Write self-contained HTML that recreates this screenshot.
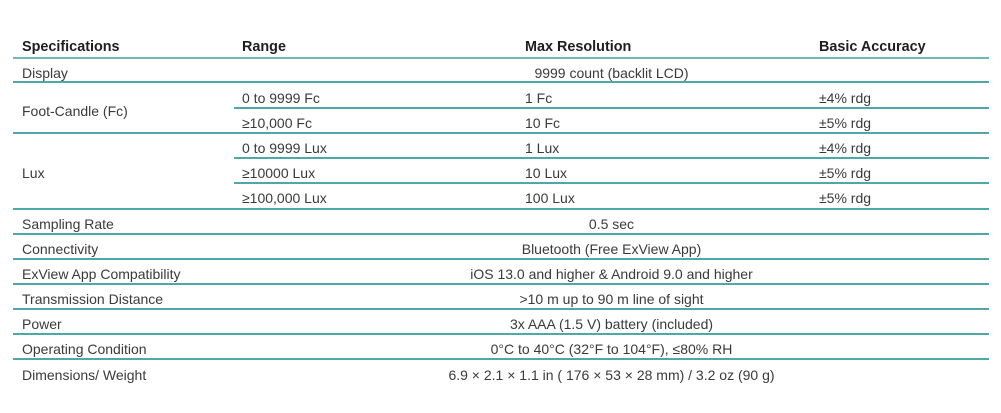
<!DOCTYPE html>
<html>
<head>
<meta charset="utf-8">
<style>
  html, body { margin:0; padding:0; background:#fff; }
  body { width:1001px; height:413px; position:relative; overflow:hidden;
         font-family:"Liberation Sans", Arial, sans-serif; font-size:14px; color:#3a3a3a; }
  .t { position:absolute; line-height:14px; height:14px; white-space:nowrap; }
  .h { font-weight:bold; color:#1e1e1e; font-size:14.4px; }
  .c { width:755px; left:234px; text-align:center; }
  .ln { position:absolute; height:2px; background:#4fa8a8; }
  .full { left:13px; width:976px; }
  .sub { left:234px; width:755px; }
</style>
</head>
<body>
  <!-- header -->
  <div class="t h" style="left:22px; top:40px;">Specifications</div>
  <div class="t h" style="left:242px; top:40px;">Range</div>
  <div class="t h" style="left:525px; top:40px;">Max Resolution</div>
  <div class="t h" style="left:819px; top:40px;">Basic Accuracy</div>
  <div class="ln full" style="top:57px; background:#6cb9b9;"></div>

  <!-- Display -->
  <div class="t" style="left:22px; top:66px;">Display</div>
  <div class="t c" style="top:66px;">9999 count (backlit LCD)</div>
  <div class="ln full" style="top:81px;"></div>

  <!-- Foot-candle -->
  <div class="t" style="left:22px; top:104px;">Foot-Candle (Fc)</div>
  <div class="t" style="left:242px; top:91px;">0 to 9999 Fc</div>
  <div class="t" style="left:525px; top:91px;">1 Fc</div>
  <div class="t" style="left:819px; top:91px;">±4% rdg</div>
  <div class="ln sub" style="top:107px;"></div>
  <div class="t" style="left:242px; top:116px;">≥10,000 Fc</div>
  <div class="t" style="left:525px; top:116px;">10 Fc</div>
  <div class="t" style="left:819px; top:116px;">±5% rdg</div>
  <div class="ln full" style="top:132px;"></div>

  <!-- Lux -->
  <div class="t" style="left:22px; top:166px;">Lux</div>
  <div class="t" style="left:242px; top:141px;">0 to 9999 Lux</div>
  <div class="t" style="left:525px; top:141px;">1 Lux</div>
  <div class="t" style="left:819px; top:141px;">±4% rdg</div>
  <div class="ln sub" style="top:157px;"></div>
  <div class="t" style="left:242px; top:166px;">≥10000 Lux</div>
  <div class="t" style="left:525px; top:166px;">10 Lux</div>
  <div class="t" style="left:819px; top:166px;">±5% rdg</div>
  <div class="ln sub" style="top:182px;"></div>
  <div class="t" style="left:242px; top:191px;">≥100,000 Lux</div>
  <div class="t" style="left:525px; top:191px;">100 Lux</div>
  <div class="t" style="left:819px; top:191px;">±5% rdg</div>
  <div class="ln full" style="top:208px;"></div>

  <!-- Remaining rows -->
  <div class="t" style="left:22px; top:217px;">Sampling Rate</div>
  <div class="t c" style="top:217px;">0.5 sec</div>
  <div class="ln full" style="top:233px;"></div>

  <div class="t" style="left:22px; top:242px;">Connectivity</div>
  <div class="t c" style="top:242px;">Bluetooth (Free ExView App)</div>
  <div class="ln full" style="top:258px;"></div>

  <div class="t" style="left:22px; top:267px;">ExView App Compatibility</div>
  <div class="t c" style="top:267px;">iOS 13.0 and higher &amp; Android 9.0 and higher</div>
  <div class="ln full" style="top:283px;"></div>

  <div class="t" style="left:22px; top:292px;">Transmission Distance</div>
  <div class="t c" style="top:292px;">&gt;10 m up to 90 m line of sight</div>
  <div class="ln full" style="top:308px;"></div>

  <div class="t" style="left:22px; top:317px;">Power</div>
  <div class="t c" style="top:317px;">3x AAA (1.5 V) battery (included)</div>
  <div class="ln full" style="top:333px;"></div>

  <div class="t" style="left:22px; top:342px;">Operating Condition</div>
  <div class="t c" style="top:342px;">0°C to 40°C (32°F to 104°F), ≤80% RH</div>
  <div class="ln full" style="top:358px;"></div>

  <div class="t" style="left:22px; top:368px;">Dimensions/ Weight</div>
  <div class="t c" style="top:368px;">6.9 × 2.1 × 1.1 in ( 176 × 53 × 28 mm) / 3.2 oz (90 g)</div>
</body>
</html>
